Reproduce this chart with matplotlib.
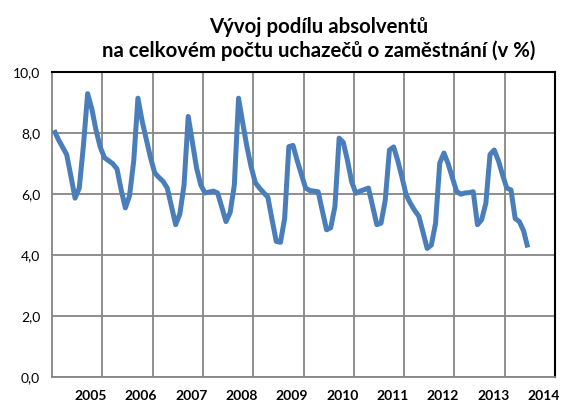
import matplotlib
matplotlib.use("Agg")
import matplotlib.pyplot as plt
import numpy as np

plt.rcParams['font.family'] = ['Lato', 'DejaVu Sans']

# podil absolventu na uchazecich (v %), mesicne od 1/2005
v2005 = [8.1, 7.8, 7.55, 7.3, 6.6, 5.87, 6.2, 7.6, 9.3, 8.8, 8.1, 7.55]
v2006 = [7.2, 7.1, 7.0, 6.83, 6.14, 5.55, 5.95, 7.1, 9.15, 8.4, 7.8, 7.2]
v2007 = [6.7, 6.55, 6.42, 6.2, 5.6, 5.0, 5.35, 6.3, 8.55, 7.7, 6.85, 6.3]
v2008 = [6.04, 6.07, 6.1, 6.04, 5.58, 5.1, 5.4, 6.3, 9.15, 8.34, 7.56, 6.9]
v2009 = [6.38, 6.2, 6.05, 5.9, 5.16, 4.45, 4.42, 5.2, 7.56, 7.6, 7.1, 6.65]
v2010 = [6.2, 6.12, 6.1, 6.08, 5.45, 4.83, 4.9, 5.6, 7.84, 7.7, 7.1, 6.4]
v2011 = [6.03, 6.1, 6.15, 6.2, 5.6, 5.0, 5.05, 5.8, 7.45, 7.55, 7.1, 6.55]
v2012 = [5.97, 5.7, 5.47, 5.28, 4.76, 4.22, 4.33, 5.04, 7.02, 7.35, 7.0, 6.55]
v2013 = [6.1, 6.0, 6.04, 6.05, 6.08, 5.0, 5.16, 5.7, 7.3, 7.45, 7.1, 6.63]
v2014 = [6.2, 6.14, 5.2, 5.1, 4.8, 4.25]

years = [2005, 2006, 2007, 2008, 2009, 2010, 2011, 2012, 2013, 2014]
y_ticks = [0, 2, 4, 6, 8, 10]
y_labels = ['0,0', '2,0', '4,0', '6,0', '8,0', '10,0']
title = 'Vývoj podílu absolventů\nna celkovém počtu uchazečů o zaměstnání (v %)'

values = v2005 + v2006 + v2007 + v2008 + v2009 + v2010 + v2011 + v2012 + v2013 + v2014
months = np.arange(len(values))
x = years[0] + (months + 0.5) / 12

fig = plt.figure(figsize=(5.61, 4.03), dpi=100)
ax = fig.add_axes([0.0927, 0.0645, 0.8966, 0.7561])

grid_col = '#868686'
ax.plot(x, values, color='#4a7ebb', linewidth=3.6, solid_joinstyle='round',
        solid_capstyle='butt', zorder=3)

ax.set_xlim(years[0], years[-1] + 1)
ax.set_ylim(0, 10)

# svisle mrizky na hranicich let, popisky posunute doleva od mrizky
ax.set_xticks(years[1:])
ax.set_xticklabels([])
ax.set_xticks([y + 0.77 for y in years], minor=True)
ax.set_xticklabels([str(y) for y in years], minor=True, fontsize=10, fontweight='bold')
ax.tick_params(axis='x', which='both', length=0, pad=9)
ax.xaxis.grid(True, which='major', color=grid_col, linewidth=1.3)

ax.set_yticks(y_ticks)
ax.set_yticklabels(y_labels, fontsize=10)
ax.tick_params(axis='y', length=0, pad=8.5)
ax.yaxis.grid(True, color=grid_col, linewidth=1.3)
ax.set_axisbelow(True)

for side in ['left', 'bottom']:
    ax.spines[side].set_color(grid_col)
    ax.spines[side].set_linewidth(1.3)
for side in ['top', 'right']:
    ax.spines[side].set_color('black')
    ax.spines[side].set_linewidth(1.5)

fig.text(319 / 561, 1 - 39 / 403, title, ha='center', va='center',
         fontsize=14.7, fontweight='bold', linespacing=1.2)

fig.savefig('out.png', dpi=100)
